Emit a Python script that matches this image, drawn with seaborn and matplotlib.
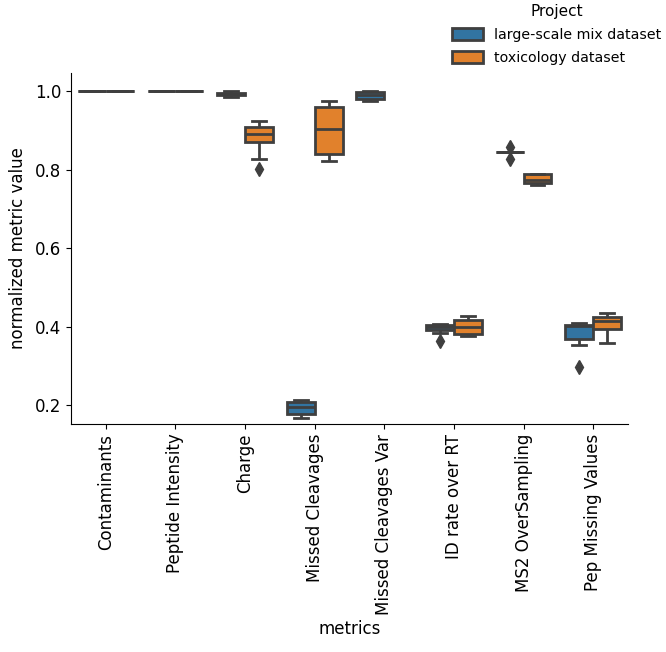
import matplotlib
matplotlib.use("Agg")
import matplotlib.pyplot as plt
import seaborn as sns
import pandas as pd

# metric order on the x axis
metrics = ["Contaminants", "Peptide Intensity", "Charge", "Missed Cleavages",
           "Missed Cleavages Var", "ID rate over RT", "MS2 OverSampling",
           "Pep Missing Values"]
projects = ["large-scale mix dataset", "toxicology dataset"]

# normalized values per run
contaminants_mix = [1.0, 1.0, 1.0, 1.0, 1.0]
contaminants_tox = [1.0, 1.0, 1.0, 1.0, 1.0]
pep_intensity_mix = [1.0, 1.0, 1.0, 1.0, 1.0]
pep_intensity_tox = [1.0, 1.0, 1.0, 1.0, 1.0]
charge_mix = [0.984, 0.989, 0.992, 0.996, 1.0]
charge_tox = [0.802, 0.827, 0.871, 0.880, 0.890, 0.900, 0.909, 0.915, 0.925]
missed_cleav_mix = [0.168, 0.178, 0.195, 0.208, 0.212]
missed_cleav_tox = [0.822, 0.841, 0.904, 0.960, 0.975]
missed_cleav_var_mix = [0.975, 0.979, 0.990, 0.997, 1.0]
missed_cleav_var_tox = []
id_rate_mix = [0.364, 0.385, 0.392, 0.395, 0.399, 0.401, 0.403, 0.404, 0.406]
id_rate_tox = [0.377, 0.381, 0.398, 0.418, 0.428]
ms2_overs_mix = [0.828, 0.845, 0.845, 0.845, 0.845, 0.845, 0.845, 0.845, 0.857]
ms2_overs_tox = [0.760, 0.766, 0.773, 0.789, 0.790]
pep_missing_mix = [0.296, 0.352, 0.369, 0.385, 0.401, 0.403, 0.405, 0.407, 0.409]
pep_missing_tox = [0.358, 0.394, 0.415, 0.425, 0.435]

mix_vals = [contaminants_mix, pep_intensity_mix, charge_mix, missed_cleav_mix,
            missed_cleav_var_mix, id_rate_mix, ms2_overs_mix, pep_missing_mix]
tox_vals = [contaminants_tox, pep_intensity_tox, charge_tox, missed_cleav_tox,
            missed_cleav_var_tox, id_rate_tox, ms2_overs_tox, pep_missing_tox]

records = []
for proj, vals in zip(projects, [mix_vals, tox_vals]):
    for m, v in zip(metrics, vals):
        for x in v:
            records.append({"metrics": m, "Project": proj, "normalized metric value": x})
df = pd.DataFrame(records)

fig = plt.figure(figsize=(6.66, 6.52), dpi=100)
ax = fig.add_axes([0.1066, 0.3497, 0.8363, 0.5383])

sns.boxplot(data=df, x="metrics", y="normalized metric value", hue="Project",
            order=metrics, hue_order=projects, ax=ax, linewidth=2,
            palette=["#3274a1", "#e1812c"], saturation=1,
            flierprops=dict(marker="d", markersize=7, markerfacecolor="#3f3f3f",
                            markeredgecolor="#3f3f3f"))

ax.set_ylim(0.152, 1.046)
ax.set_xlim(-0.5, 7.5)
ax.set_yticks([0.2, 0.4, 0.6, 0.8, 1.0])
ax.tick_params(axis="both", labelsize=12)
ax.tick_params(axis="x", labelrotation=90)
ax.set_xlabel("metrics", fontsize=12)
ax.set_ylabel("normalized metric value", fontsize=12, labelpad=6)
sns.despine(ax=ax)

sns.move_legend(ax, loc="upper left", bbox_to_anchor=(0.659, 1.014),
                bbox_transform=fig.transFigure, frameon=False,
                fontsize=10.2, title_fontsize=11, handlelength=2.2,
                handleheight=0.9, labelspacing=0.65)

fig.savefig("out.png", dpi=100)
